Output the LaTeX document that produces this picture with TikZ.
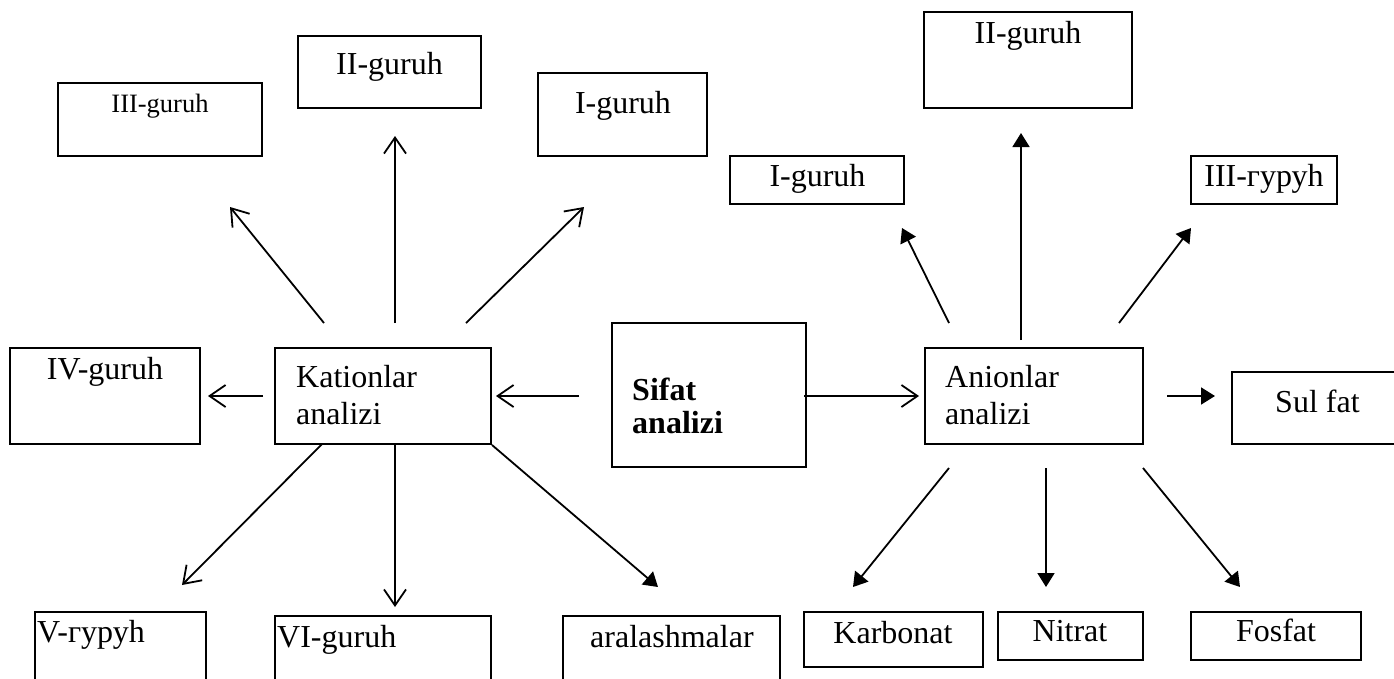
\documentclass[tikz,border=0pt]{standalone}
\usepackage{fontspec}
\setmainfont{Liberation Serif}
\usetikzlibrary{arrows.meta}

\begin{document}
\begin{tikzpicture}[x=1pt,y=-1pt,
    box/.style={draw,line width=2pt,inner sep=0pt},
    t/.style={inner sep=0pt,font=\fontsize{32}{37}\selectfont},
    opn/.style={line width=1.8pt,-{Straight Barb[length=16pt,width=22pt]}},
    fil/.style={line width=1.8pt,-{Triangle[length=14pt,width=17pt]}}]
    \useasboundingbox (0,0) rectangle (1394,678);

    % kationlar side
    \node[box,minimum width=204pt,minimum height=73pt] (k3) at (160,119.5) {};
    \node[box,minimum width=183pt,minimum height=72pt] (k2) at (389.5,72) {};
    \node[box,minimum width=169pt,minimum height=83pt] (k1) at (622.5,114.5) {};
    \node[box,minimum width=190pt,minimum height=96pt] (k4) at (105,396) {};
    \node[box,minimum width=216pt,minimum height=96pt] (kat) at (383,396) {};
    \node[box,minimum width=171pt,minimum height=100pt] (k5) at (120.5,662) {};
    \node[box,minimum width=216pt,minimum height=96pt] (k6) at (383,664) {};
    \node[box,minimum width=217pt,minimum height=96pt] (ara) at (671.5,664) {};

    \node[t,anchor=base,font=\fontsize{26.5}{30}\selectfont] (k3t) at (160,112) {III-guruh};
    \node[t,anchor=base] (k2t) at (389.5,74) {II-guruh};
    \node[t,anchor=base] (k1t) at (623,113) {I-guruh};
    \node[t,anchor=base] (k4t) at (105,379) {IV-guruh};
    \node[t,anchor=base west] (katt) at (296,387) {Kationlar};
    \node[t,anchor=base west] (katt2) at (296,424) {analizi};
    \node[t,anchor=base west] (k5t) at (37,642) {V-гуруh};
    \node[t,anchor=base west] (k6t) at (277,647) {VI-guruh};
    \node[t,anchor=base west] (arat) at (590,647) {aralashmalar};

    % markaz
    \node[box,minimum width=194pt,minimum height=144pt] (sif) at (709,395) {};
    \node[t,anchor=base west,font=\fontsize{32}{37}\selectfont\bfseries] (sift) at (632,400) {Sifat};
    \node[t,anchor=base west,font=\fontsize{32}{37}\selectfont\bfseries] (sift2) at (632,433) {analizi};

    % anionlar side
    \node[box,minimum width=208pt,minimum height=96pt] (a2) at (1028,60) {};
    \node[box,minimum width=174pt,minimum height=48pt] (a1) at (817,180) {};
    \node[box,minimum width=146pt,minimum height=48pt] (a3) at (1264,180) {};
    \node[box,minimum width=218pt,minimum height=96pt] (an) at (1034,396) {};
    \node[box,minimum width=188pt,minimum height=72pt] (sul) at (1326,408) {};
    \node[box,minimum width=179pt,minimum height=55pt] (karb) at (893.5,639.5) {};
    \node[box,minimum width=145pt,minimum height=48pt] (nit) at (1070.5,636) {};
    \node[box,minimum width=170pt,minimum height=48pt] (fos) at (1276,636) {};

    \node[t,anchor=base] (a2t) at (1028,43) {II-guruh};
    \node[t,anchor=base] (a1t) at (817.5,186) {I-guruh};
    \node[t,anchor=base] (a3t) at (1264,186) {III-гуруh};
    \node[t,anchor=base west] (ant) at (945,387) {Anionlar};
    \node[t,anchor=base west] (ant2) at (945,424) {analizi};
    \node[t,anchor=base west] (sult) at (1275,412) {Sul fat};
    \node[t,anchor=base] (karbt) at (893,643) {Karbonat};
    \node[t,anchor=base] (nitt) at (1070,641) {Nitrat};
    \node[t,anchor=base] (fost) at (1276,641) {Fosfat};

    % arrow ends
    \coordinate (c1) at (324,323);  \coordinate (c1e) at (230,207);
    \coordinate (c2) at (395,323);  \coordinate (c2e) at (395,136);
    \coordinate (c3) at (466,323);  \coordinate (c3e) at (584,207);
    \coordinate (c4) at (263,396);  \coordinate (c4e) at (208,396);
    \coordinate (c5) at (579,396);  \coordinate (c5e) at (496,396);
    \coordinate (c6) at (322,444);  \coordinate (c6e) at (182,585);
    \coordinate (c7) at (395,444);  \coordinate (c7e) at (395,607);
    \coordinate (c8e) at (658,587);
    \coordinate (d1) at (804,396);  \coordinate (d1e) at (919,396);
    \coordinate (d2) at (949,323);  \coordinate (d2e) at (902,228);
    \coordinate (d3) at (1021,340); \coordinate (d3e) at (1021,133);
    \coordinate (d4) at (1119,323); \coordinate (d4e) at (1191,228);
    \coordinate (d5) at (1167,396); \coordinate (d5e) at (1215,396);
    \coordinate (d6) at (949,468);  \coordinate (d6e) at (853,587);
    \coordinate (d7) at (1046,468); \coordinate (d7e) at (1046,587);
    \coordinate (d8) at (1143,468); \coordinate (d8e) at (1240,587);

    \draw[opn] (c1) -- (c1e);
    \draw[opn] (c2) -- (c2e);
    \draw[opn] (c3) -- (c3e);
    \draw[opn] (c4) -- (c4e);
    \draw[opn] (c5) -- (c5e);
    \draw[opn] (c6) -- (c6e);
    \draw[opn] (c7) -- (c7e);
    \draw[fil] (kat.south east) -- (c8e);
    \draw[opn] (d1) -- (d1e);
    \draw[fil] (d2) -- (d2e);
    \draw[fil] (d3) -- (d3e);
    \draw[fil] (d4) -- (d4e);
    \draw[fil] (d5) -- (d5e);
    \draw[fil] (d6) -- (d6e);
    \draw[fil] (d7) -- (d7e);
    \draw[fil] (d8) -- (d8e);
\end{tikzpicture}
\end{document}
